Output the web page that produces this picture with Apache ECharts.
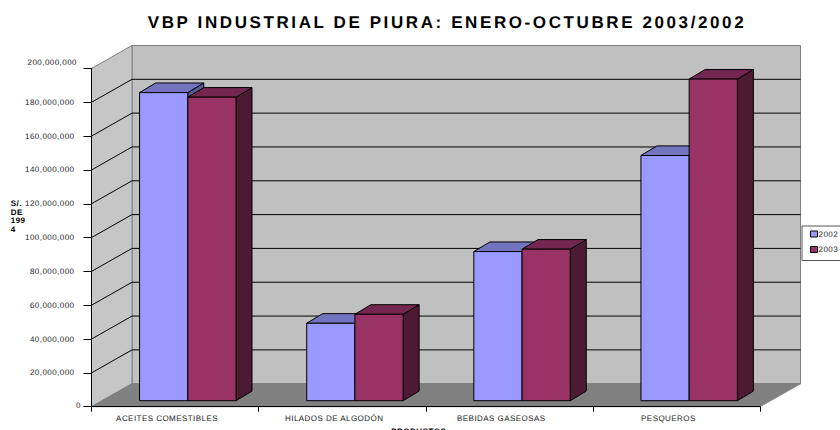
<!DOCTYPE html>
<html><head><meta charset="utf-8">
<style>html,body{margin:0;padding:0;background:#fff;overflow:hidden}#c{width:840px;height:430px}
#c svg{opacity:.999}
#c svg text{letter-spacing:.45px;text-rendering:geometricPrecision}
#c svg text[style*="17px"]{letter-spacing:2.6px}
</style>
<script src="https://cdn.jsdelivr.net/npm/echarts@6/dist/echarts.min.js"></script>
</head><body><div id="c"></div>
<script>
const categories = ['ACEITES COMESTIBLES', 'HILADOS DE ALGODÓN', 'BEBIDAS GASEOSAS', 'PESQUEROS'];
const values2002 = [182200000, 45800000, 88200000, 145000000];
const values2003 = [179500000, 51100000, 89600000, 190200000];
const yTicks = [0, 20000000, 40000000, 60000000, 80000000, 100000000, 120000000, 140000000, 160000000, 180000000, 200000000];
const yTitle = 'S/.\nDE\n199\n4';
const xTitle = 'PRODUCTOS';
const chartTitle = 'VBP INDUSTRIAL DE PIURA: ENERO-OCTUBRE 2003/2002';

const WALL = [40.5, 23];
const BAR_OFFSET = [10.3, 6];
const BAR_DEPTH = [16, 9.6];
const BAR_START = 0.226, BAR_WIDTH = 0.2885;
const FONT = '"Liberation Sans", Arial, sans-serif';
const LABEL = '#222';

const chart = echarts.init(document.getElementById('c'), null, {renderer: 'svg'});

function fmt(v) { return v.toLocaleString('en-US'); }
function poly(points, fill, stroke, lw) {
  return {type: 'polygon', shape: {points}, style: {fill, stroke: stroke || 'none', lineWidth: lw || 0}};
}
function tickText(v, x, y) {
  return {type: 'text', style: {text: fmt(v), x, y, align: 'right', verticalAlign: 'middle', fill: LABEL, fontSize: 8, fontFamily: FONT}};
}
function renderWalls(params, api) {
  const band = api.size([1, 0])[0];
  const xL = api.coord([0, 0])[0] - band / 2;
  const xR = api.coord([categories.length - 1, 0])[0] + band / 2;
  const y0 = api.coord([0, 0])[1];
  const yMax = yTicks[yTicks.length - 1];
  const yT = api.coord([0, yMax])[1];
  const [dx, dy] = WALL;
  const children = [
    poly([[xL + dx, yT - dy], [xR + dx, yT - dy], [xR + dx, y0 - dy], [xL + dx, y0 - dy]], '#c0c0c0', '#808080', 1),
    poly([[xL, yT], [xL + dx, yT - dy], [xL + dx, y0 - dy], [xL, y0]], '#c6c6c6', '#808080', 1),
    poly([[xL, y0], [xL + dx, y0 - dy], [xR + dx, y0 - dy], [xR, y0]], '#808080', '#808080', 1)
  ];
  yTicks.slice(1, -1).forEach(v => {
    const y = api.coord([0, v])[1];
    children.push({type: 'polyline', shape: {points: [[xL, y], [xL + dx, y - dy], [xR + dx, y - dy]]},
      style: {fill: 'none', stroke: '#000', lineWidth: 1}});
  });
  children.push(tickText(0, xL - 10.5, y0 - 1), tickText(yMax, xL - 14.5, yT - 6));
  return {type: 'group', children};
}
function barRenderer(seriesIdx, front, top, side) {
  return function (params, api) {
    const band = api.size([1, 0])[0];
    const cat = api.value(0);
    const left = api.coord([cat, 0])[0] - band / 2 + BAR_OFFSET[0] + band * (BAR_START + seriesIdx * BAR_WIDTH);
    const w = band * BAR_WIDTH;
    const yB = api.coord([cat, 0])[1] - BAR_OFFSET[1];
    const yT = api.coord([cat, api.value(1)])[1] - BAR_OFFSET[1];
    const [dx, dy] = BAR_DEPTH;
    const r = left + w;
    return {type: 'group', children: [
      poly([[r, yT], [r + dx, yT - dy], [r + dx, yB - dy], [r, yB]], side, '#000', 1),
      poly([[left, yT], [left + dx, yT - dy], [r + dx, yT - dy], [r, yT]], top, '#000', 1),
      poly([[left, yT], [r, yT], [r, yB], [left, yB]], front, '#000', 1)
    ]};
  };
}

chart.setOption({
  animation: false,
  backgroundColor: '#fff',
  textStyle: {fontFamily: FONT},
  title: {
    text: chartTitle, left: 442, top: 9, textAlign: 'center',
    textStyle: {fontSize: 17, fontWeight: 'bold', color: '#000', fontFamily: FONT}
  },
  legend: {
    data: ['2002', '2003'], left: 802, top: 226, orient: 'vertical', selectedMode: false,
    icon: 'rect', itemWidth: 7, itemHeight: 6, itemGap: 7.5, padding: [4, 8, 7, 8],
    backgroundColor: '#fff', borderColor: '#555', borderWidth: 1,
    textStyle: {fontSize: 8, color: LABEL, padding: [0, 0, 0, -4]},
    itemStyle: {borderColor: '#000', borderWidth: 1}
  },
  grid: {left: 91.5, right: 80, top: 68.5, bottom: 23.3, containLabel: false, outerBoundsMode: 'none'},
  xAxis: {
    type: 'category', data: categories, z: 6,
    name: xTitle, nameLocation: 'middle', nameGap: 21,
    nameTextStyle: {fontSize: 8, fontWeight: 'bold', color: '#000', padding: [0, 14, 0, 0]},
    axisLine: {lineStyle: {color: '#000', width: 1}},
    axisTick: {show: true, length: 5, lineStyle: {color: '#000'}},
    axisLabel: {fontSize: 8, color: LABEL, margin: 8, padding: [0, 16, 0, 0], interval: 0}
  },
  yAxis: {
    type: 'value', min: 0, max: 200000000, interval: 20000000, z: 6,
    name: yTitle, nameLocation: 'middle', nameRotate: 0, nameGap: 79.5,
    nameTextStyle: {fontSize: 8, fontWeight: 'bold', color: '#000', align: 'left', verticalAlign: 'bottom', lineHeight: 8.5, padding: [0, 0, 4, 0]},
    splitLine: {show: false},
    axisLine: {show: true, lineStyle: {color: '#000', width: 1}},
    axisTick: {show: true, length: 8, lineStyle: {color: '#000'}},
    axisLabel: {
      margin: 17, color: LABEL, fontSize: 8, padding: [0, 0, 2, 0],
      formatter: v => (v === 0 || v === 200000000) ? '' : fmt(v)
    }
  },
  series: [
    {type: 'custom', name: 'walls', z: 1, silent: true, renderItem: renderWalls, data: [[0, 0]], clip: false},
    {type: 'custom', name: '2002', z: 3, renderItem: barRenderer(0, '#9999ff', '#7373c0', '#5c5c99'),
      itemStyle: {color: '#9999ff'}, data: values2002.map((v, i) => [i, v]), clip: false},
    {type: 'custom', name: '2003', z: 4, renderItem: barRenderer(1, '#993366', '#732650', '#4d1a33'),
      itemStyle: {color: '#993366'}, data: values2003.map((v, i) => [i, v]), clip: false}
  ]
});
</script></body></html>
